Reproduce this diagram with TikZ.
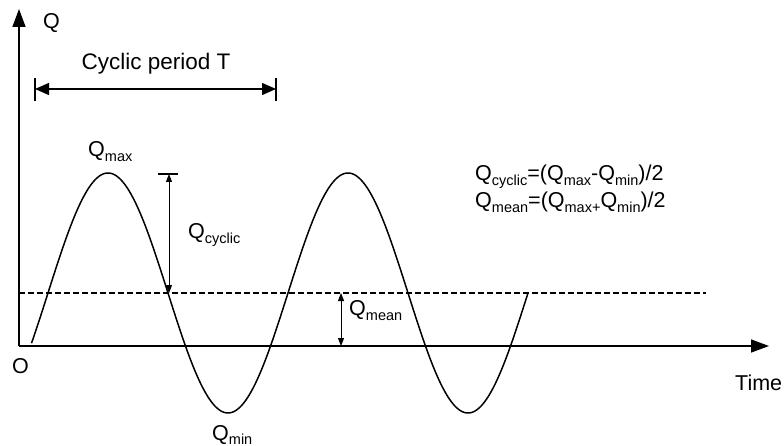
\documentclass[tikz,border=0pt]{standalone}
\usepackage{fontspec}
\setmainfont{Liberation Sans}
\usetikzlibrary{arrows.meta}
\newcommand\qsub[1]{\raisebox{-0.2em}{\fontsize{14.5}{15}\selectfont #1}}
\begin{document}
\begin{tikzpicture}[x=1pt,y=-1pt,
  lbl/.style={inner sep=0pt, anchor=base west, font=\fontsize{21.5}{25}\selectfont},
  axis/.style={line width=1.4pt, -{Triangle[length=18pt,width=13pt]}},
  dimarrow/.style={line width=1pt, {Triangle[length=8pt,width=6pt]}-{Triangle[length=8pt,width=6pt]}},
  perarrow/.style={line width=1.3pt, {Triangle[length=14pt,width=12pt]}-{Triangle[length=14pt,width=12pt]}},
  barline/.style={line width=1.3pt},
  wave/.style={line width=1.5pt},
  meanline/.style={line width=1.2pt, dash pattern=on 6pt off 3pt}
]
\useasboundingbox (0,0) rectangle (784,446);

% axes
\coordinate (O) at (19,346);
\coordinate (ytop) at (19,9);
\coordinate (xend) at (769,346);
\draw[axis] (O) -- (ytop);
\draw[axis] (O) -- (xend);

% mean line
\coordinate (m0) at (19,293);
\coordinate (m1) at (706,293);
\draw[meanline] (m0) -- (m1);

% wave
\draw[wave] plot[domain=31.5:528, samples=300, smooth] (\x, {293-120*sin((\x-48)*1.5)});

% period arrow
\coordinate (pl) at (35,89);
\coordinate (pr) at (276,89);
\coordinate (plt) at (35,78);
\coordinate (plb) at (35,101);
\coordinate (prt) at (276,78);
\coordinate (prb) at (276,101);
\draw[barline] (plt) -- (plb);
\draw[barline] (prt) -- (prb);
\draw[perarrow] (pl) -- (pr);

% Q cyclic dimension
\coordinate (cbl) at (158,174);
\coordinate (cbr) at (178,174);
\coordinate (ctop) at (169,174);
\coordinate (cbot) at (169,293);
\draw[barline] (cbl) -- (cbr);
\draw[dimarrow] (ctop) -- (cbot);

% Q mean dimension
\coordinate (mtop) at (341,293);
\coordinate (mbot) at (341,346);
\draw[dimarrow] (mtop) -- (mbot);

% labels
\node[lbl] (lQ) at (43,29) {Q};
\node[lbl, anchor=base, font=\fontsize{22.5}{26}\selectfont] (lper) at (156,70) {Cyclic period T};
\node[lbl] (lmax) at (88,157) {Q\qsub{max}};
\node[lbl] (lcyc) at (188,239) {Q\qsub{cyclic}};
\node[lbl] (lmean) at (349,316) {Q\qsub{mean}};
\node[lbl] (lmin) at (212,440) {Q\qsub{min}};
\node[lbl] (lf1) at (475,181) {Q\qsub{cyclic}=(Q\qsub{max}-Q\qsub{min})/2};
\node[lbl] (lf2) at (475,208) {Q\qsub{mean}=(Q\qsub{max+}Q\qsub{min})/2};
\node[lbl] (ltime) at (735,390) {Time};
\node[lbl] (lO) at (12,373) {O};
\end{tikzpicture}
\end{document}
